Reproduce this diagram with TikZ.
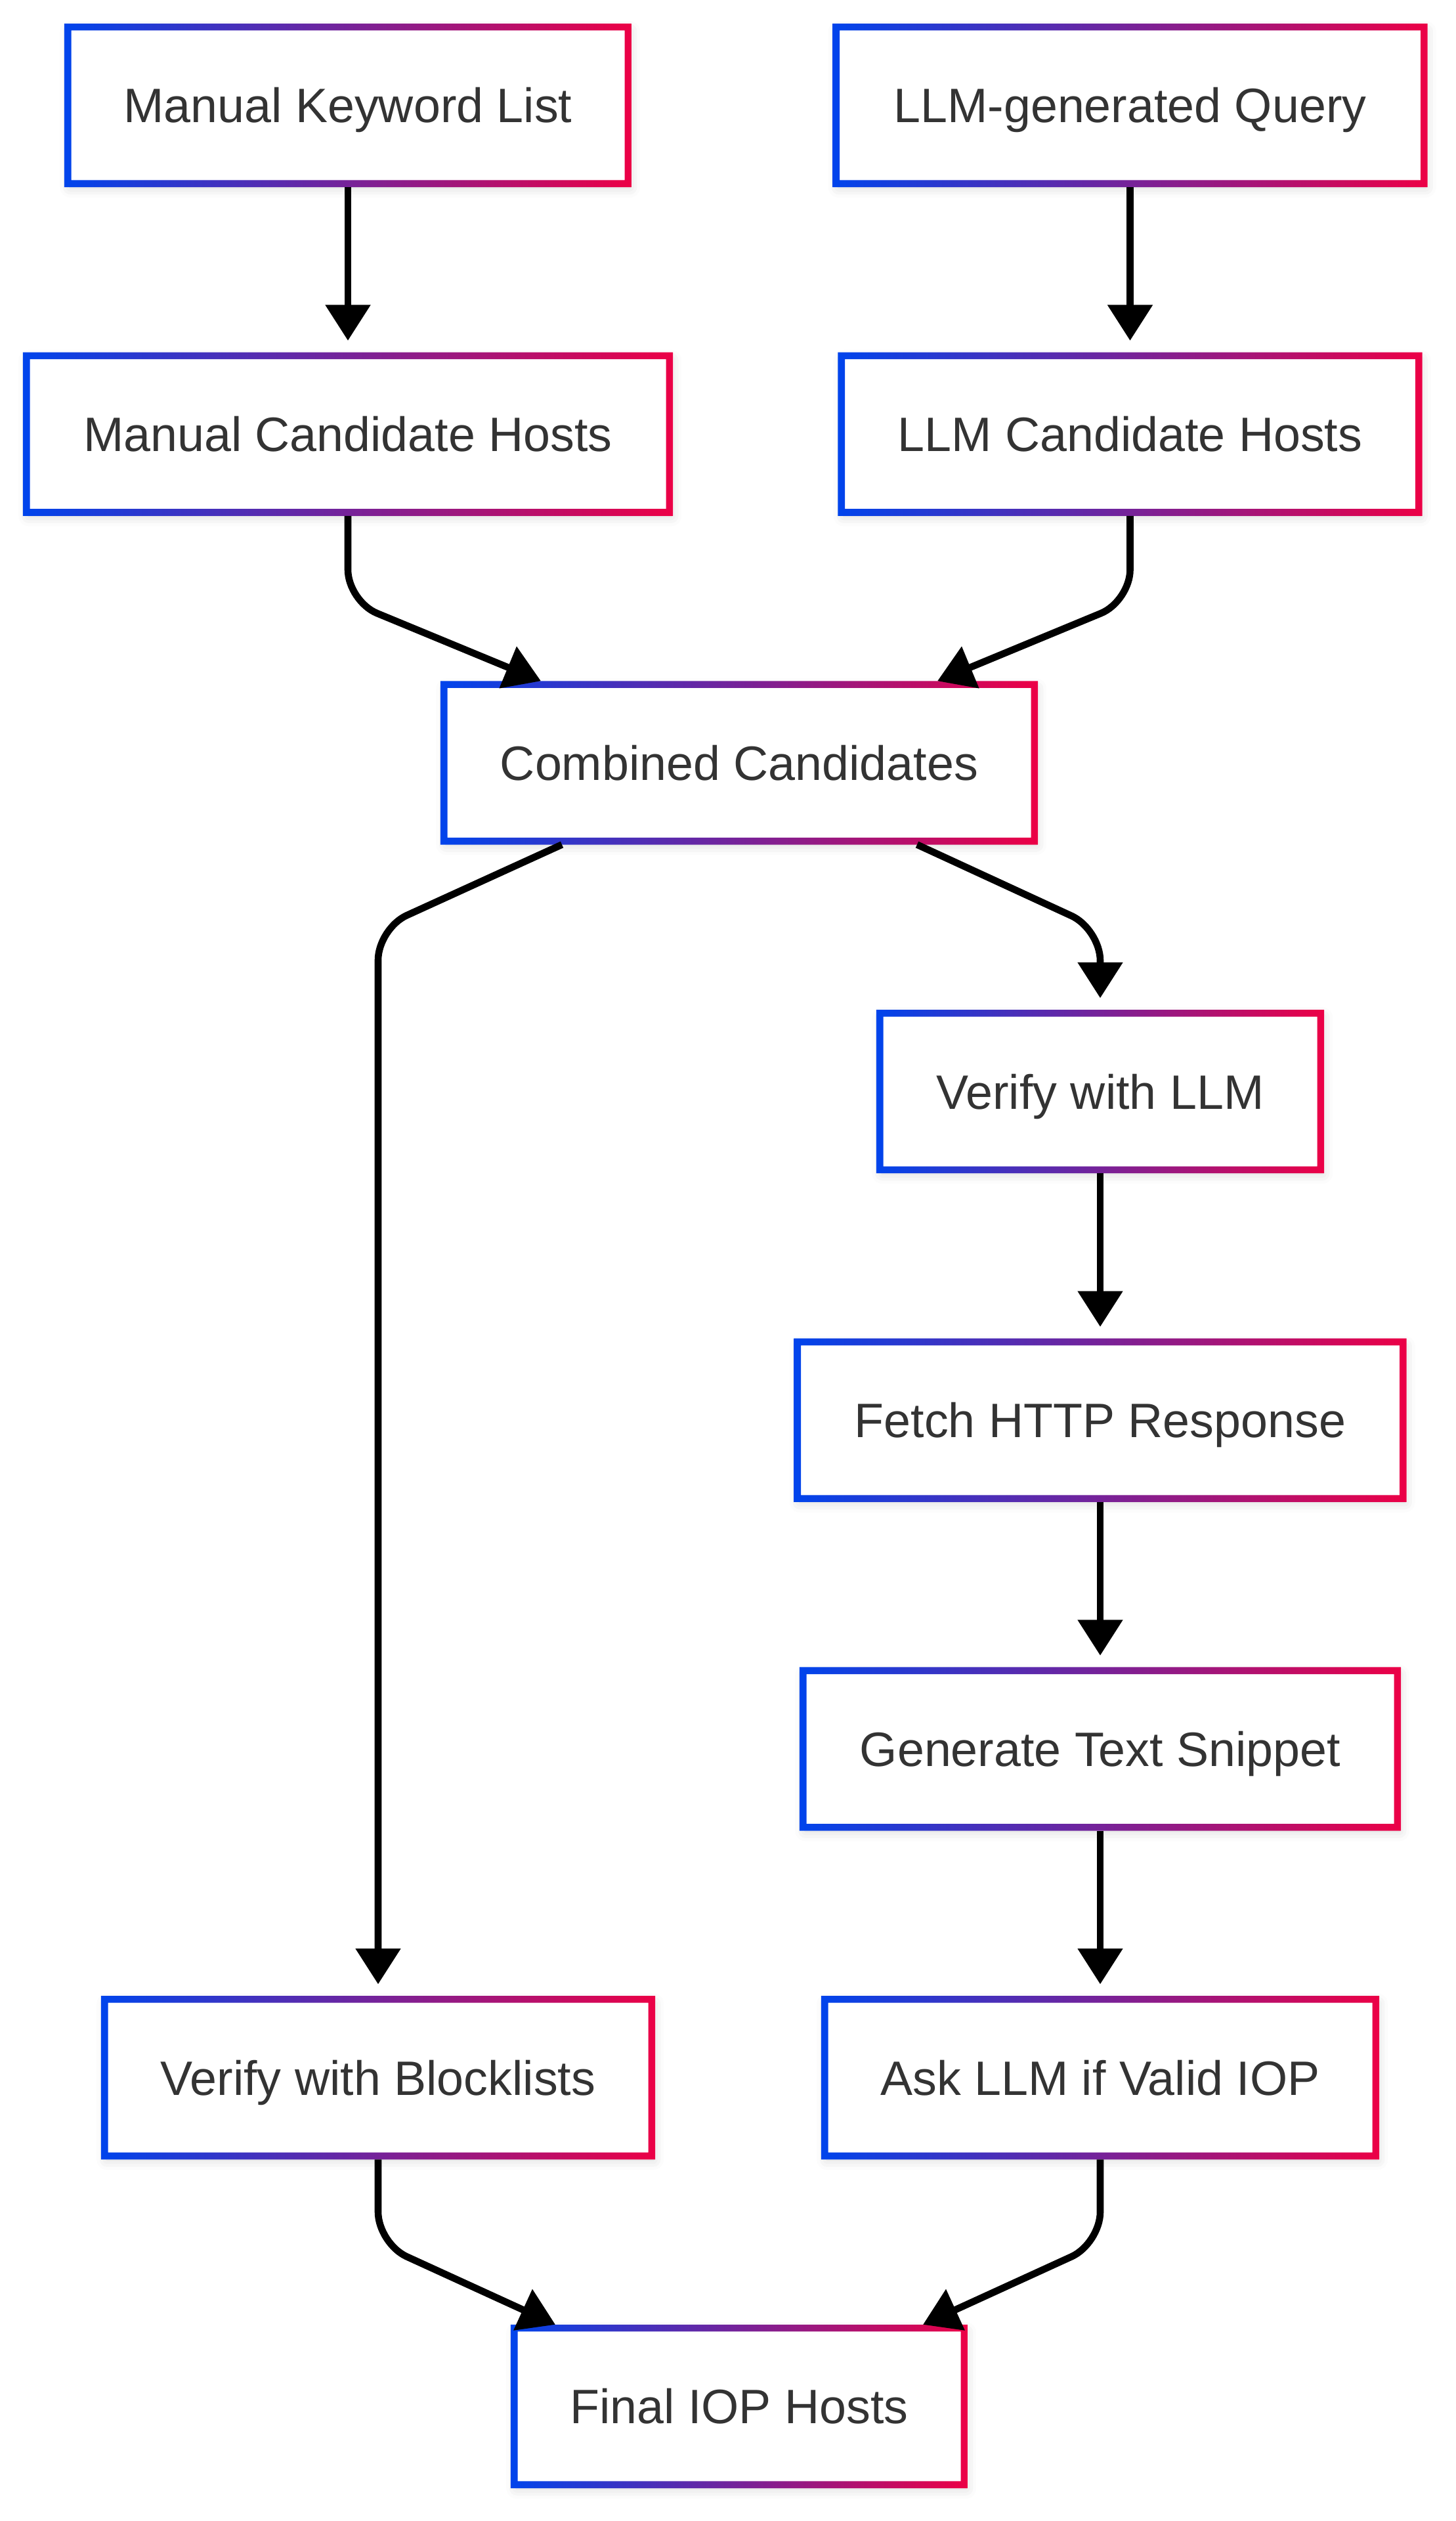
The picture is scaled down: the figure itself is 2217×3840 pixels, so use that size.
\documentclass[tikz,border=0pt]{standalone}
\usepackage{fontspec}
\setmainfont{Liberation Sans}
\usetikzlibrary{calc,arrows.meta,shadows.blur}
\definecolor{gblue}{RGB}{0,68,236}
\definecolor{gred}{RGB}{236,0,70}
\definecolor{txt}{HTML}{333333}
\begin{document}
\begin{tikzpicture}[x=0.25pt,y=-0.25pt,
  box/.style={rectangle, draw=none, fill=white, inner sep=0pt,
    minimum height=59.25pt, text=txt, text height=13.2pt, text depth=0pt,
    font=\fontsize{18.4pt}{22pt}\selectfont,
    blur shadow={shadow xshift=0.8pt, shadow yshift=-1.5pt, shadow blur radius=4pt, shadow opacity=18}},
  arr/.style={draw=black, line width=2.65pt, rounded corners=12pt,
    -{Triangle[length=13.6pt,width=16.6pt]}}
]
\useasboundingbox (0,0) rectangle (2217,3840);

% nodes
\node[box, minimum width=213pt]   (A) at (530,160.5)    {Manual Keyword List};
\node[box, minimum width=223.5pt] (B) at (1721.5,160.5) {LLM-generated Query};
\node[box, minimum width=244.5pt] (C) at (530,661.2)    {Manual Candidate Hosts};
\node[box, minimum width=219.5pt] (D) at (1721.5,661.2) {LLM Candidate Hosts};
\node[box, minimum width=224.5pt] (E) at (1126,1161.9)  {Combined Candidates};
\node[box, minimum width=167.5pt] (F) at (1676,1662.6)  {Verify with LLM};
\node[box, minimum width=230.25pt](G) at (1676,2163.3)  {Fetch HTTP Response};
\node[box, minimum width=226pt]   (H) at (1676,2664)    {Generate Text Snippet};
\node[box, minimum width=208pt]   (I) at (576,3164.7)   {Verify with Blocklists};
\node[box, minimum width=209.5pt] (J) at (1676,3164.7)  {Ask LLM if Valid IOP};
\node[box, minimum width=171pt]   (K) at (1126,3665.4)  {Final IOP Hosts};

% gradient borders
\foreach \n in {A,B,C,D,E,F,G,H,I,J,K}{
  \shade[left color=gblue, right color=gred, even odd rule]
    ($(\n.north west)+(-5.3,-5.3)$) rectangle ($(\n.south east)+(5.3,5.3)$)
    ($(\n.north west)+(5.3,5.3)$) rectangle ($(\n.south east)+(-5.3,-5.3)$);
}

% connectors
\draw[arr] ($(A.south)+(0,5.3)$) -- ($(C.north)+(0,-23)$);
\draw[arr] ($(B.south)+(0,5.3)$) -- ($(D.north)+(0,-23)$);
\draw[arr] ($(C.south)+(0,5.3)$) -- ++(0,130) -- ($(E.north)+(-302,-5.3)$);
\draw[arr] ($(D.south)+(0,5.3)$) -- ++(0,130) -- ($(E.north)+(302,-5.3)$);
\draw[arr] ($(E.south)+(-270,5.3)$) -- ($(E.south -| I.north)+(0,133)$) -- ($(I.north)+(0,-23)$);
\draw[arr] ($(E.south)+(271,5.3)$) -- ($(E.south -| F.north)+(0,134)$) -- ($(F.north)+(0,-23)$);
\draw[arr] ($(F.south)+(0,5.3)$) -- ($(G.north)+(0,-23)$);
\draw[arr] ($(G.south)+(0,5.3)$) -- ($(H.north)+(0,-23)$);
\draw[arr] ($(H.south)+(0,5.3)$) -- ($(J.north)+(0,-23)$);
\draw[arr] ($(I.south)+(0,5.3)$) -- ++(0,128) -- ($(K.north)+(-280,-5.3)$);
\draw[arr] ($(J.south)+(0,5.3)$) -- ++(0,128) -- ($(K.north)+(280,-5.3)$);
\end{tikzpicture}
\end{document}
